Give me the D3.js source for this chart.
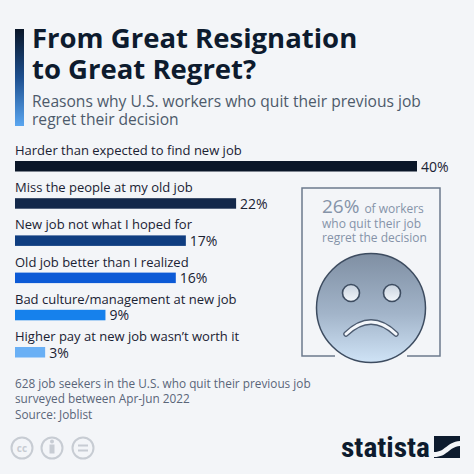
<!DOCTYPE html>
<html>
<head>
<meta charset="utf-8">
<script src="https://cdn.jsdelivr.net/npm/d3@7"></script>
<style>
  html, body { margin: 0; padding: 0; background: #f3f5f8; }
  svg { display: block; font-family: "Open Sans", sans-serif; }
</style>
</head>
<body>
<svg id="base" width="474" height="474"></svg>
<script>
// data
const categories = [
    "Harder than expected to find new job",
    "Miss the people at my old job",
    "New job not what I hoped for",
    "Old job better than I realized",
    "Bad culture/management at new job",
    "Higher pay at new job wasn\u2019t worth it",
];
const values = [40, 22, 17, 16, 9, 3];
const barColors = ["#0a1628", "#13284a", "#0f3d80", "#0c5ad6", "#1681ec", "#6ab0f5"];

const titleLines = ["From Great Resignation", "to Great Regret?"];
const subtitleLines = ["Reasons why U.S. workers who quit their previous job", "regret their decision"];
const noteLines = ["628 job seekers in the U.S. who quit their previous job", "surveyed between Apr-Jun 2022", "Source: Joblist"];
const calloutValue = "26%";
const calloutLines = ["of workers", "who quit their job", "regret the decision"];

const svg = d3.select("#base");
const defs = svg.append("defs");

// title accent bar
const accent = defs.append("linearGradient").attr("id", "accent")
    .attr("x1", 0).attr("y1", 0).attr("x2", 0).attr("y2", 1);
accent.append("stop").attr("offset", "0%").attr("stop-color", "#0a1628");
accent.append("stop").attr("offset", "50%").attr("stop-color", "#1d4f8f");
accent.append("stop").attr("offset", "100%").attr("stop-color", "#5aa6f0");
svg.append("rect").attr("x", 15).attr("y", 29).attr("width", 9).attr("height", 97)
    .attr("fill", "url(#accent)");

// title
svg.append("g").selectAll("text").data(titleLines).enter().append("text")
    .attr("x", 32).attr("y", (d, i) => 48 + i * 31)
    .attr("font-size", 27.5).attr("font-weight", 700).attr("fill", "#0d1b2e")
    .text(d => d);

svg.append("g").selectAll("text").data(subtitleLines).enter().append("text")
    .attr("x", 32).attr("y", (d, i) => 107 + i * 18)
    .attr("font-size", 15.6).attr("fill", "#4d5a6b")
    .text(d => d);

// bars
const x = d3.scaleLinear().domain([0, 40]).range([15, 417]);
const y = d3.scaleBand().domain(categories).range([149, 149 + 37.2 * 6]);

const row = svg.append("g").selectAll("g")
    .data(categories.map((c, i) => ({ name: c, value: values[i], color: barColors[i] })))
    .enter().append("g")
    .attr("transform", d => `translate(0,${y(d.name)})`);

row.append("text")
    .attr("x", x(0)).attr("y", 6)
    .attr("font-size", 13).attr("fill", "#1a2233")
    .text(d => d.name);

row.append("rect")
    .attr("x", x(0)).attr("y", 12)
    .attr("width", d => x(d.value) - x(0)).attr("height", 10.5)
    .attr("fill", d => d.color);

row.append("text")
    .attr("x", d => x(d.value) + 4).attr("y", 22.5)
    .attr("font-size", 14).attr("fill", "#1a2233")
    .text(d => d.value + "%");

// callout box
svg.append("path")
    .attr("d", "M335,356 H302 V188 H440 V356 H407")
    .attr("fill", "none").attr("stroke", "#6c7a8c").attr("stroke-width", 1.5);

const callout = svg.append("text").attr("x", 322).attr("y", 213).attr("fill", "#8593a8");
callout.append("tspan").attr("font-size", 19).text(calloutValue + " ");
callout.append("tspan").attr("font-size", 12).text(calloutLines[0]);
svg.append("g").selectAll("text").data(calloutLines.slice(1)).enter().append("text")
    .attr("x", 322).attr("y", (d, i) => 228 + i * 14)
    .attr("font-size", 12).attr("fill", "#8593a8")
    .text(d => d);

// sad face
const faceGrad = defs.append("linearGradient").attr("id", "face")
    .attr("x1", 0).attr("y1", 0).attr("x2", 0).attr("y2", 1);
faceGrad.append("stop").attr("offset", "0%").attr("stop-color", "#7f8fa3");
faceGrad.append("stop").attr("offset", "55%").attr("stop-color", "#a2b4c9");
faceGrad.append("stop").attr("offset", "100%").attr("stop-color", "#cfe3f6");
const eyeGrad = defs.append("linearGradient").attr("id", "eye")
    .attr("x1", 0).attr("y1", 0).attr("x2", 0).attr("y2", 1);
eyeGrad.append("stop").attr("offset", "0%").attr("stop-color", "#c9d3df");
eyeGrad.append("stop").attr("offset", "100%").attr("stop-color", "#f2f6fa");

const face = svg.append("g");
face.append("circle").attr("cx", 371).attr("cy", 308).attr("r", 54.5)
    .attr("fill", "url(#face)").attr("stroke", "#3d4c60").attr("stroke-width", 1.5);
face.selectAll(".eye").data([351, 392]).enter().append("circle")
    .attr("class", "eye").attr("cx", d => d).attr("cy", 293).attr("r", 8.5)
    .attr("fill", "url(#eye)").attr("stroke", "#3d4c60").attr("stroke-width", 1.6);
const mouth = "M346,334 Q371,310 396,334";
face.append("path").attr("d", mouth).attr("fill", "none")
    .attr("stroke", "#4c5b70").attr("stroke-width", 5.5).attr("stroke-linecap", "round");
face.append("path").attr("d", mouth).attr("fill", "none")
    .attr("stroke", "#f4f7fb").attr("stroke-width", 3).attr("stroke-linecap", "round");

// notes
svg.append("g").selectAll("text").data(noteLines).enter().append("text")
    .attr("x", 15).attr("y", (d, i) => 388 + i * 14.5 + (i === 2 ? 1.5 : 0))
    .attr("font-size", 11.8).attr("fill", "#5a6578")
    .text(d => d);

// cc icons
const cc = svg.append("g").attr("stroke", "#c7ccd3").attr("fill", "none").attr("stroke-width", 2);
cc.selectAll("circle").data([22, 52, 83]).enter().append("circle")
    .attr("cx", d => d).attr("cy", 448).attr("r", 10.5);
cc.append("text").attr("x", 22).attr("y", 452).attr("text-anchor", "middle")
    .attr("font-size", 10).attr("font-weight", 700).attr("stroke", "none").attr("fill", "#c7ccd3")
    .text("cc");
cc.append("circle").attr("cx", 52).attr("cy", 441.5).attr("r", 2).attr("fill", "#c7ccd3").attr("stroke", "none");
cc.append("rect").attr("x", 49.5).attr("y", 444.5).attr("width", 5).attr("height", 9)
    .attr("fill", "#c7ccd3").attr("stroke", "none");
cc.append("path").attr("d", "M78,445.5 H88 M78,450.5 H88");

// statista logo
svg.append("text").attr("x", 341).attr("y", 457)
    .attr("font-size", 27).attr("font-weight", 700).attr("fill", "#0d1b2e")
    .attr("font-family", "'Liberation Sans Narrow', 'Roboto Condensed', sans-serif")
    .attr("textLength", 89).attr("lengthAdjust", "spacingAndGlyphs")
    .text("statista");
svg.append("rect").attr("x", 434).attr("y", 436).attr("width", 26).attr("height", 22).attr("fill", "#0d1b2e");
svg.append("path")
    .attr("d", "M434,452 C446,452 446,442 460,441 L460,446 C448,447 448,457 434,457 Z")
    .attr("fill", "#f3f5f8");
</script>
</body>
</html>
